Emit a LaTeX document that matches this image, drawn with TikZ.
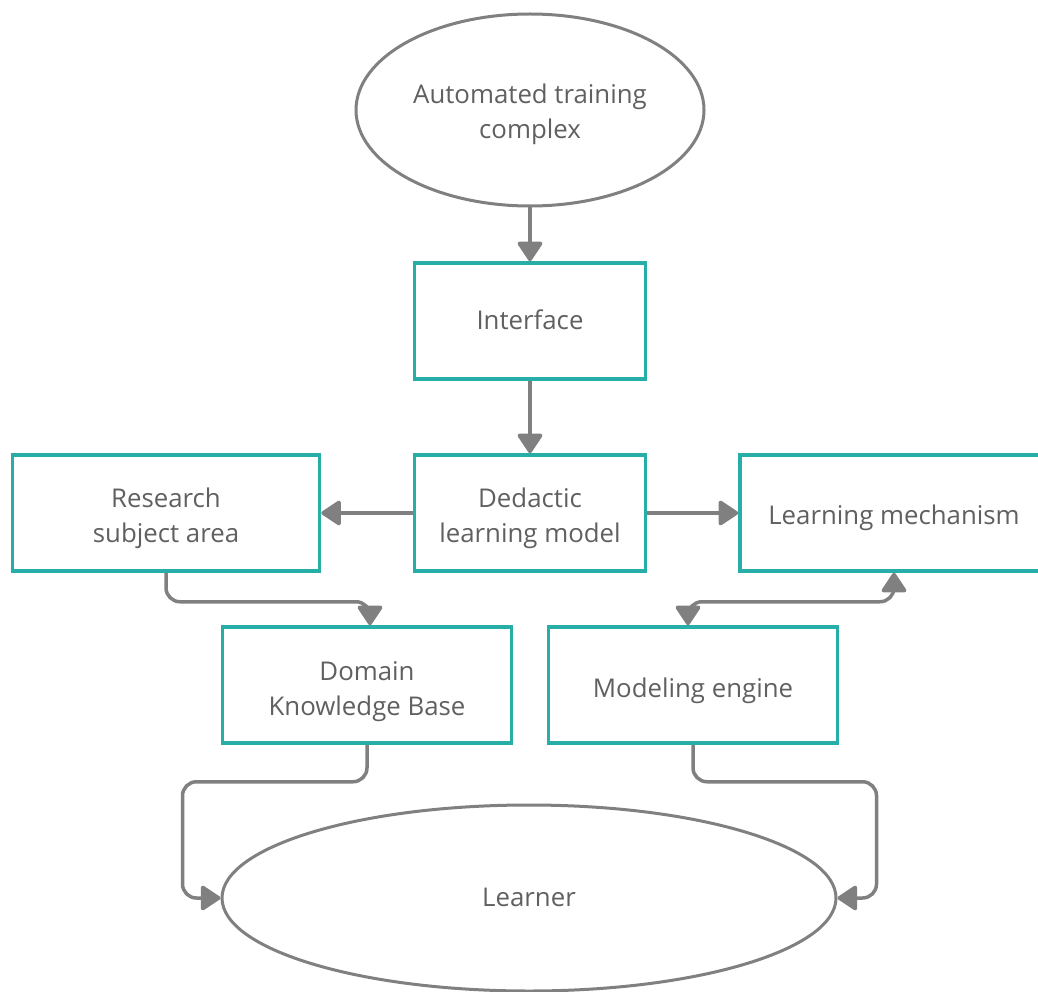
\documentclass[tikz,border=0pt]{standalone}
\usepackage{fontspec}
\setmainfont{Open Sans}
\usetikzlibrary{shapes.geometric,arrows.meta}
\definecolor{teal}{HTML}{27AEA8}
\definecolor{arrgray}{HTML}{808080}
\definecolor{txtgray}{HTML}{606060}
\newcommand{\lbl}[2][5pt]{\raisebox{-#1}[\height][\depth]{\begin{tabular}{@{}c@{}}#2\end{tabular}}}
\begin{document}
\begin{tikzpicture}[x=1pt,y=-1pt,
  every node/.style={font=\fontsize{25.8}{35}\selectfont, text=txtgray},
  box/.style={draw=teal, line width=3.5pt, minimum width=231pt, minimum height=116pt, inner sep=0pt},
  oval/.style={ellipse, draw=arrgray, line width=3pt, inner sep=0pt},
  arr/.style={draw=arrgray, line width=3.5pt, -{Triangle[width=27pt,length=21pt,round]}},
  dbl/.style={draw=arrgray, line width=3.5pt, {Triangle[width=27pt,length=21pt,round]}-{Triangle[width=27pt,length=21pt,round]}}
]
\clip (0,0) rectangle (1038,992);
\fill[white] (0,0) rectangle (1038,992);
\node[oval, minimum width=348pt, minimum height=192pt] (top) at (530,110) {\lbl[4pt]{Automated training\\complex}};
\node[box] (iface) at (530,321) {\lbl[1pt]{Interface}};
\node[box] (ded) at (530,513) {\lbl{Dedactic\\learning model}};
\node[box, minimum width=307pt] (res) at (166,513) {\lbl{Research\\subject area}};
\node[box, minimum width=308pt] (lm) at (894,513) {\lbl[4pt]{Learning mechanism}};
\node[box, minimum width=289pt] (dkb) at (367,685) {\lbl[6pt]{Domain\\Knowledge Base}};
\node[box, minimum width=289pt] (me) at (693,685) {\lbl{Modeling engine}};
\node[oval, minimum width=614pt, minimum height=186pt] (lea) at (529,898) {\lbl[1pt]{Learner}};

\draw[arr] (top) -- (iface);
\draw[arr] (iface) -- (ded);
\draw[arr] (ded) -- (res);
\draw[arr] (ded) -- (lm);
\draw[arr, rounded corners=14pt] (res.south) -- ++(0,29) -| ([xshift=3pt]dkb.north);
\draw[dbl, rounded corners=14pt] (lm.south) -- ++(0,29) -| ([xshift=-5pt]me.north);
\draw[arr, rounded corners=14pt] (dkb.south) -- ++(0,37) -| ([xshift=-38pt]lea.west) -- (lea.west);
\draw[arr, rounded corners=14pt] (me.south) -- ++(0,37) -| ([xshift=39pt]lea.east) -- (lea.east);
\end{tikzpicture}
\end{document}
